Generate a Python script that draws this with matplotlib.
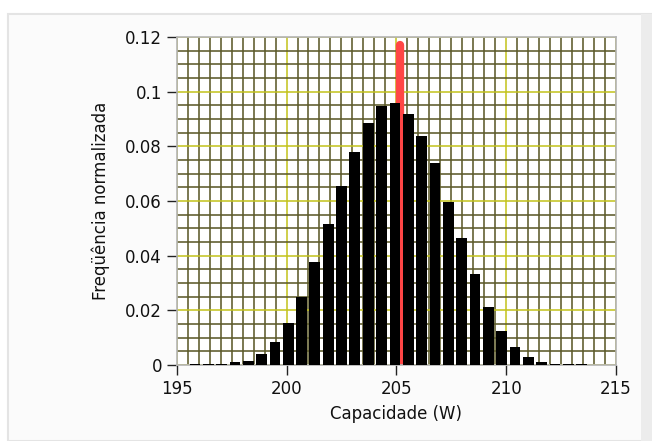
import numpy as np
import matplotlib
matplotlib.use('Agg')
import matplotlib.pyplot as plt
from matplotlib.patches import Rectangle
from matplotlib.ticker import MultipleLocator

# histogram of capacity (W), normalised frequency per bin
bin_centers = [195.83, 196.44, 197.04, 197.65, 198.26, 198.87, 199.47, 200.08,
               200.69, 201.29, 201.90, 202.51, 203.11, 203.72, 204.33, 204.94,
               205.54, 206.15, 206.76, 207.36, 207.97, 208.58, 209.18, 209.79,
               210.40, 211.01, 211.61, 212.22, 212.83, 213.43]
freq = [0.0005, 0.0005, 0.0005, 0.001, 0.0016, 0.004, 0.0083, 0.0155,
        0.025, 0.0376, 0.0516, 0.0656, 0.078, 0.0884, 0.0949, 0.0957,
        0.092, 0.0839, 0.0738, 0.0597, 0.0465, 0.0332, 0.0213, 0.0126,
        0.0067, 0.003, 0.001, 0.0005, 0.0005, 0.0005]
mean_cap = 205.18
mean_top = 0.117

xticks = [195, 200, 205, 210, 215]
yticks = [0, 0.02, 0.04, 0.06, 0.08, 0.1, 0.12]
ytick_labels = ['0', '0.02', '0.04', '0.06', '0.08', '0.1', '0.12']

W, H = 652, 441
fig = plt.figure(figsize=(W / 100, H / 100), dpi=100)
fig.patch.set_facecolor('white')

# panel frame like the original window
fig.patches.append(Rectangle((8 / W, 0), (W - 8) / W, (H - 14) / H,
                             transform=fig.transFigure, facecolor='#fbfbfb',
                             edgecolor='#e4e4e4', lw=1.5, zorder=-10))
fig.patches.append(Rectangle((641 / W, 0), 11 / W, (H - 14) / H,
                             transform=fig.transFigure, facecolor='#ececec',
                             edgecolor='none', zorder=-9))

ax = fig.add_axes([176.7 / W, 1 - 365 / H, 439.3 / W, 328 / H])
ax.set_facecolor('white')

ax.set_xlim(195, 215)
ax.set_ylim(0, 0.12)

ax.xaxis.set_minor_locator(MultipleLocator(0.5))
ax.yaxis.set_minor_locator(MultipleLocator(0.005))
ax.set_xticks(xticks)
ax.set_xticklabels([str(t) for t in xticks])
ax.set_yticks(yticks)
ax.set_yticklabels(ytick_labels)

ax.grid(which='minor', color='#5c5a2a', lw=1.15, zorder=0)
ax.grid(which='major', color='#c2c21a', lw=1.1, zorder=0.5)
ax.set_axisbelow(True)

ax.plot([mean_cap, mean_cap], [0, mean_top], color='#ff4646', lw=6,
        solid_capstyle='round', zorder=1.5)
# bars above the spine so the near-empty bins still show as dashes
ax.bar(bin_centers, freq, width=0.49, color='black', zorder=3)

for s in ax.spines.values():
    s.set_color('#b4b4b4')
    s.set_linewidth(1.2)

ax.tick_params(which='minor', length=0)
ax.tick_params(which='major', direction='out', length=7, width=1,
               color='#222222', labelsize=12, labelcolor='#111111')
ax.tick_params(axis='x', pad=4)

ax.set_xlabel('Capacidade (W)', fontsize=12, color='#111111', labelpad=5)
ax.set_ylabel('Freqüência normalizada', fontsize=12, color='#111111',
              labelpad=11)

fig.savefig('out.png', dpi=100)
